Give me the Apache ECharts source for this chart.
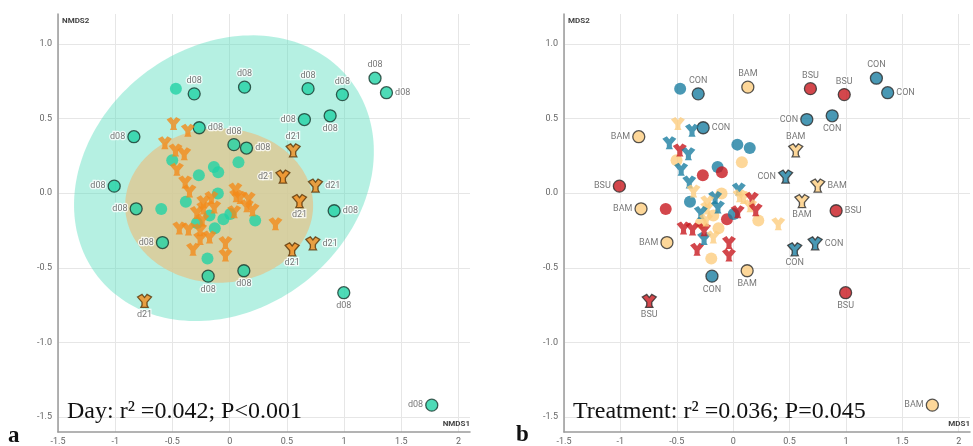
<!DOCTYPE html>
<html>
<head>
<meta charset="utf-8">
<script src="https://cdn.jsdelivr.net/npm/echarts@6/dist/echarts.min.js"></script>
<style>
  html, body { margin: 0; padding: 0; background: #fff; }
  #chart { width: 973px; height: 446px; }
</style>
</head>
<body>
<div id="chart"></div>
<script>
// Axis tick values shared by both ordination panels
const xTicks = [-1.5, -1, -0.5, 0, 0.5, 1, 1.5, 2];
const yTicks = [-1.5, -1, -0.5, 0, 0.5, 1];

// Sample scores (axis 1, axis 2), sampling day and treatment
const sampleX = [
  -0.47, -0.31, 0.13, 0.685, 0.985, 1.27, 1.37, 0.653, 0.878, -0.266,
  -0.837, 0.037, 0.147, 0.913, -1.009, -0.817, -0.598, -0.587, -0.188, 0.124,
  0.997, 1.766, -0.194, -0.13, -0.502, -0.269, -0.138, -0.10, 0.077, -0.103,
  -0.383, -0.176, -0.055, 0.005, 0.223, -0.286,
  0.555, 0.465, 0.75, 0.61, -0.744, 0.546, 0.727, -0.037, -0.037, -0.32,
  -0.258, -0.176, -0.44, -0.36, -0.258, 0.40, -0.49, -0.365, -0.566, -0.473,
  -0.397, -0.461, -0.389, -0.351, -0.16, -0.23, -0.23, -0.135, -0.287, 0.05,
  0.057, 0.092, 0.166, 0.15, 0.2, 0.04, -0.24
];
const sampleY = [
  0.70, 0.665, 0.71, 0.70, 0.66, 0.77, 0.673, 0.493, 0.518, 0.438,
  0.378, 0.325, 0.302, -0.118, 0.047, -0.105, -0.107, -0.331, -0.556, -0.52,
  -0.667, -1.42, -0.438, -0.235, 0.22, 0.12, 0.175, 0.14, 0.207, -0.002,
  -0.058, -0.15, -0.175, -0.14, -0.184, -0.2,
  0.287, 0.111, 0.051, -0.053, -0.722, -0.376, -0.336, -0.415, -0.331, -0.376,
  -0.304, -0.293, -0.233, -0.24, -0.245, -0.205, 0.467, 0.422, 0.338, 0.289,
  0.264, 0.16, 0.075, 0.015, -0.03, -0.057, -0.10, -0.093, -0.129, 0.027,
  -0.018, -0.029, -0.035, -0.085, -0.111, -0.124, -0.18
];
const sampleDay = [
  'd08','d08','d08','d08','d08','d08','d08','d08','d08','d08',
  'd08','d08','d08','d08','d08','d08','d08','d08','d08','d08',
  'd08','d08','d08','d08','d08','d08','d08','d08','d08','d08',
  'd08','d08','d08','d08','d08','d08',
  'd21','d21','d21','d21','d21','d21','d21','d21','d21','d21',
  'd21','d21','d21','d21','d21','d21','d21','d21','d21','d21',
  'd21','d21','d21','d21','d21','d21','d21','d21','d21','d21',
  'd21','d21','d21','d21','d21','d21','d21'
];
const sampleTreatment = [
  'CON','CON','BAM','BSU','BSU','CON','CON','CON','CON','CON',
  'BAM','CON','CON','BSU','BSU','BAM','BSU','BAM','CON','BAM',
  'BSU','BAM','BAM','BAM','BAM','BSU','CON','BSU','BAM','BAM',
  'CON','BAM','BSU','CON','BAM','BAM',
  'BAM','CON','BAM','BAM','BSU','CON','CON','BSU','BSU','BSU',
  'CON','BAM','BSU','BSU','BSU','BAM','BAM','CON','CON','BSU',
  'CON','CON','CON','BAM','CON','BAM','BAM','CON','CON','CON',
  'BAM','BAM','BSU','BAM','BSU','BSU','BAM'
];
// Where each point's name tag sits ('' = untagged), per panel
const tagDayPanel = [
  '','top','top','top','top','top','right','left','bottom','right',
  'left','top','right','right','left','left','','left','bottom','bottom',
  'bottom','left','','','','','','','','',
  '','','','','','',
  'top','left','right','bottom','bottom','bottom','right','','','',
  '','','','','','','','','','',
  '','','','','','','','','','',
  '','','','','','',''
];
const tagTreatmentPanel = [
  '','top','top','top','top','top','right','left','bottom','right',
  'left','','','right','left','left','','left','bottom','bottom',
  'bottom','left','','','','','','','','',
  '','','','','','',
  'top','left','right','bottom','bottom','bottom','right','','','',
  '','','','','','','','','','',
  '','','','','','','','','','',
  '','','','','','',''
];

// Group ellipses for the day panel: centre, semi-axes, rotation (deg)
const ellipseGroup = ['d08', 'd21'];
const ellipseCx = [-0.05, -0.092];
const ellipseCy = [0.10, -0.083];
const ellipseA = [1.334, 0.821];
const ellipseB = [0.923, 0.517];
const ellipseAngle = [15.2, 0];

const dayColor = { d08: '#22d2a5', d21: '#f28b1c' };
const dayEdge = { d08: '#17372d', d21: '#5b3408' };
const trtColor = { CON: '#1c7ea1', BSU: '#c8191f', BAM: '#fccd80' };
const ellipseFill = { d08: 'rgba(90,222,190,0.45)', d21: 'rgba(222,200,148,0.82)' };

// Three-armed "Y" marker used for day-21 samples
const triPath = 'path://M0,2 L3.2,0 L5,2.4 L6.8,0 L10,2 L6.8,6 L6.8,8.4 L7.6,10 L2.4,10 L3.2,8.4 L3.2,6 Z';

function buildPoints(tags, fillOf, edgeOf, textOf) {
  return sampleX.map((x, i) => {
    const pos = tags[i];
    const isTri = sampleDay[i] === 'd21';
    return {
      value: [x, sampleY[i]],
      symbol: isTri ? triPath : 'circle',
      symbolSize: isTri ? [14, 13] : 12,
      itemStyle: {
        color: fillOf(i),
        borderColor: pos ? edgeOf(i) : 'transparent',
        borderWidth: pos ? 1.3 : 0
      },
      label: pos ? {
        show: true,
        position: pos,
        distance: 2,
        formatter: textOf(i),
        fontFamily: 'Roboto',
        fontSize: 9,
        color: '#555',
        textBorderColor: '#fff',
        textBorderWidth: 2.5
      } : { show: false }
    };
  });
}

const leftPoints = buildPoints(tagDayPanel,
  i => dayColor[sampleDay[i]], i => dayEdge[sampleDay[i]], i => sampleDay[i]);
const rightPoints = buildPoints(tagTreatmentPanel,
  i => trtColor[sampleTreatment[i]], () => '#2a2a2a', i => sampleTreatment[i]);

function xAxisFor(gridIndex, name) {
  return {
    type: 'value', gridIndex, min: -1.5, max: 2.1,
    name, nameLocation: 'end', nameGap: 0,
    nameTextStyle: { align: 'right', verticalAlign: 'bottom', padding: [0, 0, 4, 0],
      fontFamily: 'Roboto', fontSize: 8, fontWeight: 'bold', color: '#444' },
    axisLine: { show: true, onZero: false, lineStyle: { color: '#9a9a9a', width: 1.5 } },
    axisTick: { show: false, customValues: xTicks },
    axisLabel: { customValues: xTicks, margin: 5, fontFamily: 'Roboto', fontSize: 9, color: '#666',
      formatter: v => String(Math.round(v * 10) / 10) },
    splitLine: { show: true, lineStyle: { color: '#e6e6e6', width: 1 } }
  };
}
function yAxisFor(gridIndex, name) {
  return {
    type: 'value', gridIndex, min: -1.6, max: 1.2,
    name, nameLocation: 'end', nameGap: -3,
    nameTextStyle: { align: 'left', verticalAlign: 'top', padding: [0, 0, 0, 4],
      fontFamily: 'Roboto', fontSize: 8, fontWeight: 'bold', color: '#444' },
    axisLine: { show: true, onZero: false, lineStyle: { color: '#9a9a9a', width: 1.5 } },
    axisTick: { show: false, customValues: yTicks },
    axisLabel: { customValues: yTicks, margin: 6, fontFamily: 'Roboto', fontSize: 9, color: '#666',
      formatter: v => v.toFixed(1) },
    splitLine: { show: true, lineStyle: { color: '#e6e6e6', width: 1 } }
  };
}

const chart = echarts.init(document.getElementById('chart'), null, { renderer: 'canvas' });
chart.setOption({
  backgroundColor: '#fff',
  animation: false,
  grid: [
    { left: 58, top: 14, width: 412, height: 420 },
    { left: 564, top: 14, width: 411.5, height: 420 }
  ],
  xAxis: [xAxisFor(0, 'NMDS1'), xAxisFor(1, 'MDS1')],
  yAxis: [yAxisFor(0, 'NMDS2'), yAxisFor(1, 'MDS2')],
  series: [
    {
      type: 'custom', xAxisIndex: 0, yAxisIndex: 0, silent: true, z: 1,
      data: ellipseGroup.map((g, i) => [ellipseCx[i], ellipseCy[i], ellipseA[i], ellipseB[i], ellipseAngle[i]]),
      encode: { x: 0, y: 1 },
      renderItem: (params, api) => {
        const cx = api.value(0), cy = api.value(1), a = api.value(2), b = api.value(3);
        const ang = api.value(4) * Math.PI / 180;
        const ca = Math.cos(ang), sa = Math.sin(ang);
        const pts = [];
        for (let k = 0; k < 180; k++) {
          const t = k / 180 * Math.PI * 2;
          const dx = a * Math.cos(t), dy = b * Math.sin(t);
          pts.push(api.coord([cx + dx * ca - dy * sa, cy + dx * sa + dy * ca]));
        }
        return { type: 'polygon', shape: { points: pts },
          style: { fill: ellipseFill[ellipseGroup[params.dataIndex]] } };
      }
    },
    { type: 'scatter', xAxisIndex: 0, yAxisIndex: 0, z: 3, data: leftPoints },
    { type: 'scatter', xAxisIndex: 1, yAxisIndex: 1, z: 3, data: rightPoints }
  ],
  graphic: [
    { type: 'text', left: 67, top: 400, z: 10,
      style: { text: 'Day: r\u00B2 =0.042; P<0.001', font: '24px "Liberation Serif"', fill: '#111' } },
    { type: 'text', left: 573, top: 400, z: 10,
      style: { text: 'Treatment: r\u00B2 =0.036; P=0.045', font: '24px "Liberation Serif"', fill: '#111' } },
    { type: 'text', left: 8, top: 425, z: 10,
      style: { text: 'a', font: 'bold 23px "Liberation Serif"', fill: '#111' } },
    { type: 'text', left: 516, top: 424, z: 10,
      style: { text: 'b', font: 'bold 23px "Liberation Serif"', fill: '#111' } }
  ]
});
</script>
</body>
</html>
